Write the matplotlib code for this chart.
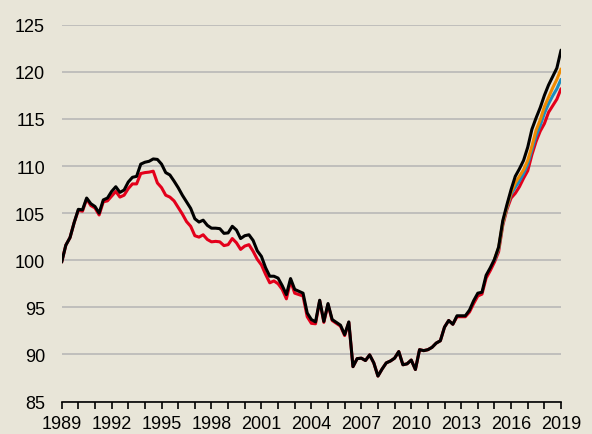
import numpy as np
import matplotlib
matplotlib.use('Agg')
import matplotlib.pyplot as plt
from matplotlib.ticker import MultipleLocator

plt.rcParams['font.family'] = ['Liberation Sans Narrow', 'Liberation Sans', 'DejaVu Sans']

# quarterly index, 1989Q1 .. 2019Q1
quarters = 1989 + np.arange(121) / 4.0

black = [99.8, 101.6, 102.4, 104.0, 105.4, 105.35, 106.6, 106.0, 105.7, 105.0,
         106.4, 106.6, 107.3, 107.8, 107.2, 107.45, 108.3, 108.8, 108.9, 110.2,
         110.4, 110.5, 110.75, 110.7, 110.2, 109.3, 109.05, 108.4, 107.7, 106.9,
         106.2, 105.5, 104.4, 104.05, 104.25, 103.7, 103.4, 103.4, 103.35, 102.85,
         102.9, 103.6, 103.2, 102.3, 102.6, 102.7, 102.1, 101.0, 100.4, 99.2,
         98.3, 98.3, 98.1, 97.3, 96.35, 98.05, 96.9, 96.7, 96.5, 94.4,
         93.7, 93.45, 95.75, 93.5, 95.4, 93.7, 93.4, 93.1, 92.1, 93.45,
         88.7, 89.55, 89.6, 89.35, 89.95, 89.1, 87.7, 88.45, 89.1, 89.3,
         89.6, 90.3, 88.9, 89.0, 89.4, 88.4, 90.5, 90.4, 90.5, 90.75,
         91.2, 91.45, 92.9, 93.6, 93.2, 94.1, 94.1, 94.1, 94.7, 95.7,
         96.5, 96.6, 98.4, 99.2, 100.1, 101.4, 104.2, 105.9, 107.5, 108.9,
         109.7, 110.6, 112.0, 113.9, 115.1, 116.2, 117.5, 118.6, 119.5, 120.4,
         122.3]

red = [99.8, 101.6, 102.4, 104.0, 105.3, 105.2, 106.5, 105.8, 105.55, 104.8,
       106.2, 106.3, 106.8, 107.3, 106.7, 106.9, 107.6, 108.1, 108.1, 109.2,
       109.3, 109.35, 109.45, 108.2, 107.7, 106.9, 106.7, 106.3, 105.6, 104.9,
       104.1, 103.6, 102.6, 102.45, 102.7, 102.2, 101.95, 102.0, 101.95, 101.55,
       101.65, 102.3, 101.85, 101.15, 101.5, 101.65, 100.95, 100.1, 99.5, 98.5,
       97.6, 97.8, 97.5, 96.9, 95.9, 97.8, 96.5, 96.35, 96.2, 94.0,
       93.3, 93.25, 95.7, 93.4, 95.3, 93.6, 93.3, 93.0, 92.0, 93.4,
       88.7, 89.55, 89.6, 89.35, 89.95, 89.1, 87.7, 88.45, 89.1, 89.3,
       89.6, 90.3, 88.9, 89.0, 89.4, 88.4, 90.5, 90.4, 90.5, 90.75,
       91.2, 91.45, 92.9, 93.6, 93.2, 94.0, 94.0, 94.0, 94.5, 95.4,
       96.2, 96.4, 98.1, 98.9, 99.8, 100.9, 103.7, 105.4, 106.6, 107.1,
       107.8, 108.7, 109.5, 111.2, 112.6, 113.7, 114.5, 115.7, 116.4, 117.1,
       118.2]

# the two middle series only separate from the others after 2015
mid_quarters = quarters[104:]
orange = [100.1, 101.3, 104.0, 105.7, 107.2, 108.2, 108.9, 109.6, 110.6, 112.1,
          113.8, 114.9, 116.3, 117.3, 118.3, 119.2, 120.3]
blue = [100.0, 101.2, 103.9, 105.6, 107.0, 107.75, 108.4, 109.2, 110.2, 111.7,
        113.2, 114.3, 115.6, 116.6, 117.45, 118.2, 119.2]

bg = '#e8e5d8'
fig = plt.figure(figsize=(5.92, 4.35), dpi=100, facecolor=bg)
ax = fig.add_axes([0.1042, 0.0747, 0.8435, 0.8662])
ax.set_facecolor(bg)

style = dict(lw=2.2, solid_joinstyle='round', solid_capstyle='round')
ax.plot(quarters, red, color='#e3001b', zorder=3, **style)
ax.plot(mid_quarters, blue, color='#1a8dc0', zorder=4, **style)
ax.plot(mid_quarters, orange, color='#ef8a00', zorder=5, **style)
ax.plot(quarters, black, color='black', zorder=6, **style)

ax.set_xlim(1989, 2019)
ax.set_ylim(85, 125)
ax.set_yticks(np.arange(85, 126, 5))
ax.set_xticks(np.arange(1989, 2020, 3))
ax.xaxis.set_minor_locator(MultipleLocator(1))

# horizontal grid only, no frame except the bottom axis
ax.grid(axis='y', color='#b4b4b4', lw=1.1)
ax.set_axisbelow(True)
for s in ['left', 'right', 'top']:
    ax.spines[s].set_visible(False)
ax.spines['bottom'].set_linewidth(1.2)

ax.tick_params(axis='y', length=0, pad=12, labelsize=13)
ax.tick_params(axis='x', which='both', length=5, width=1.2, direction='out',
               labelsize=13, pad=4.5)

fig.savefig('out.png', dpi=100, facecolor=bg)
